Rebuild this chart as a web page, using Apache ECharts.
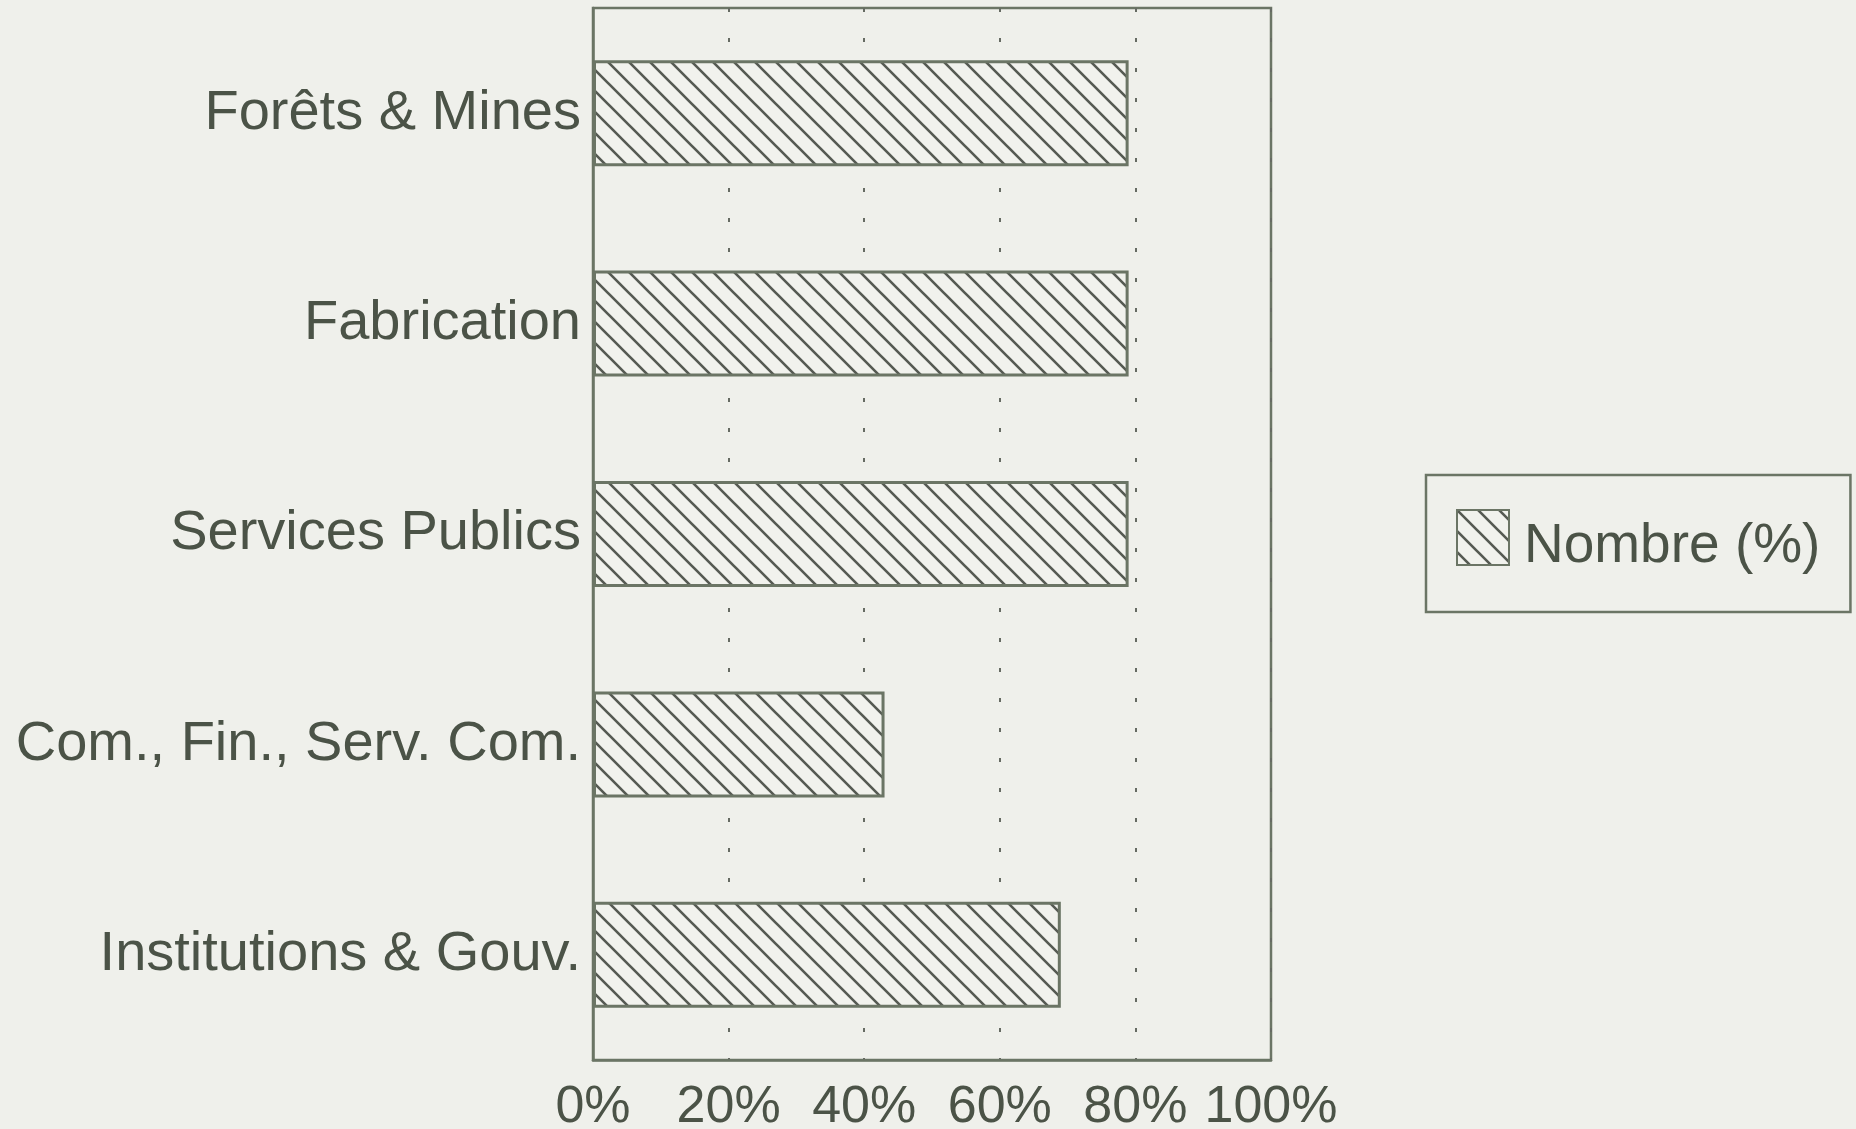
<!DOCTYPE html>
<html>
<head>
<meta charset="utf-8">
<script src="https://cdn.jsdelivr.net/npm/echarts@6/dist/echarts.min.js"></script>
<style>
html,body{margin:0;padding:0;background:#eff0eb;}
#chart{width:1856px;height:1129px;}
</style>
</head>
<body>
<div id="chart"></div>
<script>
var categories = ['Forêts & Mines', 'Fabrication', 'Services Publics', 'Com., Fin., Serv. Com.', 'Institutions & Gouv.'];
var values = [79, 79, 79, 43, 69];
var xTicks = [0, 20, 40, 60, 80, 100];
var seriesName = 'Nombre (%)';

function makeHatch(size, lw, bg, fg) {
  var c = document.createElement('canvas');
  c.width = size; c.height = size;
  var ctx = c.getContext('2d');
  ctx.fillStyle = bg; ctx.fillRect(0, 0, size, size);
  ctx.strokeStyle = fg; ctx.lineWidth = lw;
  ctx.beginPath();
  ctx.moveTo(-2, -2); ctx.lineTo(size + 2, size + 2);
  ctx.moveTo(size - 2, -2); ctx.lineTo(size + 2, 2);
  ctx.moveTo(-2, size - 2); ctx.lineTo(2, size + 2);
  ctx.stroke();
  return c;
}
var hatch = makeHatch(21, 2.6, '#f1f2ed', '#555a52');
var textColor = '#4b5347';
var lineColor = '#6b7565';
var fontFamily = '"Liberation Sans", Arial, Helvetica, sans-serif';

var chart = echarts.init(document.getElementById('chart'), null, {renderer: 'canvas'});
chart.setOption({
  backgroundColor: '#eff0eb',
  animation: false,
  grid: {
    left: 593, right: 585, top: 8, bottom: 69,
    containLabel: false,
    outerBoundsMode: 'none',
    show: true, borderColor: lineColor, borderWidth: 2.5, backgroundColor: 'transparent'
  },
  legend: {
    show: true,
    left: 1426, top: 475,
    orient: 'vertical',
    padding: [34, 30, 38, 30],
    borderColor: lineColor, borderWidth: 2.5,
    itemWidth: 52, itemHeight: 55,
    icon: 'rect',
    data: [seriesName],
    formatter: function (name) { return '{t|' + name + '}'; },
    textStyle: {
      fontSize: 55, color: textColor, fontFamily: fontFamily,
      rich: {t: {fontSize: 55, color: textColor, fontFamily: fontFamily, padding: [18, 0, 0, 10]}}
    }
  },
  xAxis: {
    type: 'value', min: 0, max: 100, interval: 20,
    axisLine: {show: true, lineStyle: {color: lineColor, width: 2.5}},
    axisTick: {show: false},
    splitLine: {show: true, lineStyle: {color: '#666b63', width: 2, type: [4, 26]}},
    axisLabel: {
      fontSize: 52, color: textColor, fontFamily: fontFamily, margin: 22,
      formatter: function (v) { return xTicks.indexOf(v) >= 0 ? v + '%' : ''; }
    }
  },
  yAxis: {
    type: 'category', data: categories, inverse: true,
    axisLine: {show: true, lineStyle: {color: lineColor, width: 2.5}},
    axisTick: {show: false},
    splitLine: {show: false},
    axisLabel: {fontSize: 56, color: textColor, fontFamily: fontFamily, margin: 12}
  },
  series: [{
    name: seriesName,
    type: 'bar',
    data: values,
    barWidth: 106,
    itemStyle: {
      color: {image: hatch, repeat: 'repeat'},
      borderColor: lineColor, borderWidth: 3
    },
    emphasis: {disabled: true}
  }]
});
</script>
</body>
</html>
